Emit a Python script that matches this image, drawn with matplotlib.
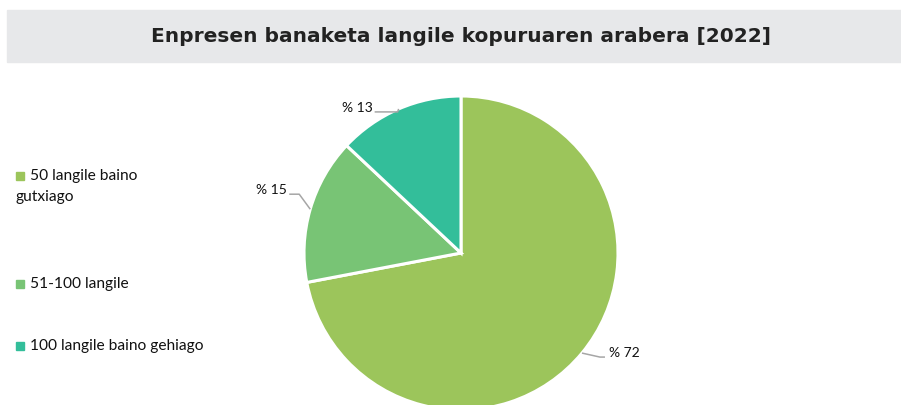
import numpy as np
import matplotlib.pyplot as plt
from matplotlib.patches import Rectangle

title = "Enpresen banaketa langile kopuruaren arabera [2022]"
categories = ["50 langile baino gutxiago", "51-100 langile", "100 langile baino gehiago"]
values = [72, 15, 13]
colors = ["#9CC55B", "#78C475", "#33BE9A"]
pct_labels = ["% 72", "% 15", "% 13"]

W, H = 901, 405
fig = plt.figure(figsize=(W / 100, H / 100), dpi=100)
ax = fig.add_axes([0, 0, 1, 1])

# title band
ax.add_patch(Rectangle((7, H - 62), W - 7, 52, color="#E7E8EA", zorder=0))
ax.text(461, H - 37, title, ha="center", va="center", fontsize=14.5,
        fontweight="bold", family="DejaVu Sans", color="#222222")

# pie, centre and radius in pixel units
cx, cy, r = 461, H - 253, 157
wedges, _ = ax.pie(values, colors=colors, startangle=90, counterclock=False,
                   center=(cx, cy), radius=r,
                   wedgeprops=dict(edgecolor="white", linewidth=2.2))

# leader lines: (elbow dx, dy), (end dx, dy) relative to anchor, text side
leaders = [((18, -4), (23, -4), "left"),
           ((-11, 15), (-21, 15), "right"),
           ((-1, -3), (-24, -3), "right")]
for w, lab, (e1, e2, side) in zip(wedges, pct_labels, leaders):
    ang = np.deg2rad((w.theta1 + w.theta2) / 2)
    x0, y0 = cx + r * np.cos(ang), cy + r * np.sin(ang)
    xs = [x0, x0 + e1[0], x0 + e2[0]]
    ys = [y0, y0 + e1[1], y0 + e2[1]]
    ax.plot(xs, ys, color="#A6A6A6", lw=1.1, solid_capstyle="butt")
    tx = xs[-1] + (4 if side == "left" else -2)
    ax.text(tx, ys[-1] + 4, lab, ha=side, va="center", fontsize=10,
            family="Lato", color="#111111")

# legend drawn by hand (first entry wraps under its marker)
leg_y = [H - 176, H - 284, H - 346]
leg_lines = [["50 langile baino", "gutxiago"], ["51-100 langile"], ["100 langile baino gehiago"]]
for y, col, lines in zip(leg_y, colors, leg_lines):
    ax.add_patch(Rectangle((16, y - 4), 8, 8, color=col))
    ax.text(30, y, lines[0], ha="left", va="center", fontsize=11.2, family="Lato", color="#111111")
    for i, extra in enumerate(lines[1:], 1):
        ax.text(16, y - 21 * i, extra, ha="left", va="center", fontsize=11.2,
                family="Lato", color="#111111")

ax.set_xlim(0, W)
ax.set_ylim(0, H)
ax.axis("off")

fig.savefig("out.png", dpi=100)
